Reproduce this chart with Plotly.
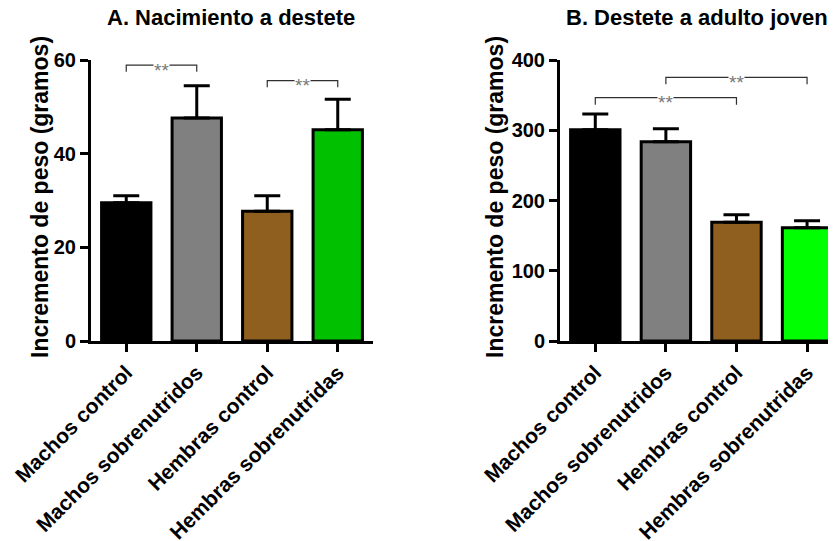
import plotly.graph_objects as go

# ---------------- data ----------------
categories = ["Machos control", "Machos sobrenutridos", "Hembras control", "Hembras sobrenutridas"]
mean_a = [29.5, 47.6, 27.7, 45.1]
sem_a = [1.5, 6.9, 3.3, 6.5]
mean_b = [300.6, 283.6, 169.1, 161.1]
sem_b = [22.4, 18.6, 10.7, 10.0]
colors_a = ["#000000", "#808080", "#8F5F1F", "#00C000"]
colors_b = ["#000000", "#808080", "#8F5F1F", "#00FF00"]
yticks_a = [0, 20, 40, 60]
yticks_b = [0, 100, 200, 300, 400]
sig_a = [(0, 1, 58.9), (2, 3, 55.6)]      # (from idx, to idx, bracket level)
sig_b = [(0, 2, 346.3), (1, 3, 375.4)]
sig_label = "**"
title_a = "A. Nacimiento a destete"
title_b = "B. Destete a adulto joven"
ytitle = "Incremento de peso (gramos)"

# ---------------- style ----------------
OFF = 8                      # page body margin
W, H = 836 - OFF, 541 - OFF
FONT = "Liberation Sans, Arial, sans-serif"
xpos = list(range(len(categories)))

def px(x):
    return (x - OFF) / W

def py(y):
    return 1 - (y - OFF) / H

fig = go.Figure()

def add_panel(means, sems, colors, xa, ya):
    fig.add_trace(go.Bar(
        x=xpos, y=means, width=0.7,
        marker=dict(color=colors, line=dict(color="black", width=3)),
        error_y=dict(type="data", symmetric=False, array=sems,
                     arrayminus=[0] * len(sems), color="black",
                     thickness=3, width=13),
        xaxis=xa, yaxis=ya, showlegend=False, hoverinfo="skip",
    ))

add_panel(mean_a, sem_a, colors_a, "x", "y")
add_panel(mean_b, sem_b, colors_b, "x2", "y2")

def add_sig(pairs, xref, yref, drop):
    for i0, i1, lvl in pairs:
        x0, x1 = xpos[i0], xpos[i1]
        fig.add_shape(type="path",
                      path=f"M {x0},{lvl - drop} L {x0},{lvl} L {x1},{lvl} L {x1},{lvl - drop}",
                      xref=xref, yref=yref, line=dict(color="#303030", width=1.2))
        fig.add_annotation(x=(x0 + x1) / 2, y=lvl, xref=xref, yref=yref,
                           text=sig_label, showarrow=False, bgcolor="white",
                           font=dict(family=FONT, size=19, color="#777777"),
                           yanchor="middle", yshift=-5, borderpad=0)

add_sig(sig_a, "x", "y", 1.4)
add_sig(sig_b, "x2", "y2", 10)

ydom = [py(341), py(60)]
axis_common = dict(showline=True, linecolor="black", linewidth=3,
                   ticks="outside", ticklen=8, tickwidth=3, tickcolor="black",
                   showgrid=False, zeroline=False, automargin=False)
xfont = dict(family=FONT, size=21, color="black", weight="bold")
yfont = dict(family=FONT, size=20, color="black", weight="bold")

fig.update_layout(
    width=W, height=H,
    margin=dict(l=0, r=0, t=0, b=0, autoexpand=False),
    paper_bgcolor="white", plot_bgcolor="white",
    xaxis=dict(domain=[px(91), px(373)], range=[-0.5, 3.5], tickvals=xpos,
               ticktext=categories, tickangle=-45, tickfont=xfont, anchor="y",
               **axis_common),
    yaxis=dict(domain=ydom, range=[0, 60], tickvals=yticks_a, tickfont=yfont,
               anchor="x", **axis_common),
    xaxis2=dict(domain=[px(560), 1.0], range=[-0.5, 3.41], tickvals=xpos,
                ticktext=categories, tickangle=-45, tickfont=xfont, anchor="y2",
                **axis_common),
    yaxis2=dict(domain=ydom, range=[0, 400], tickvals=yticks_b, tickfont=yfont,
                anchor="x2", **axis_common),
    bargap=0.3,
)

for txt, xc in [(title_a, 231), (title_b, 697)]:
    fig.add_annotation(x=px(xc), y=py(18), xref="paper", yref="paper",
                       text=txt, showarrow=False, xanchor="center", yanchor="middle",
                       font=dict(family=FONT, size=22, color="black", weight="bold"))

for xc in [40, 495]:
    fig.add_annotation(x=px(xc), y=py(197), xref="paper", yref="paper",
                       text=ytitle, showarrow=False, textangle=-90,
                       xanchor="center", yanchor="middle",
                       font=dict(family=FONT, size=23, color="black", weight="bold"))

fig.write_html("out.html")
